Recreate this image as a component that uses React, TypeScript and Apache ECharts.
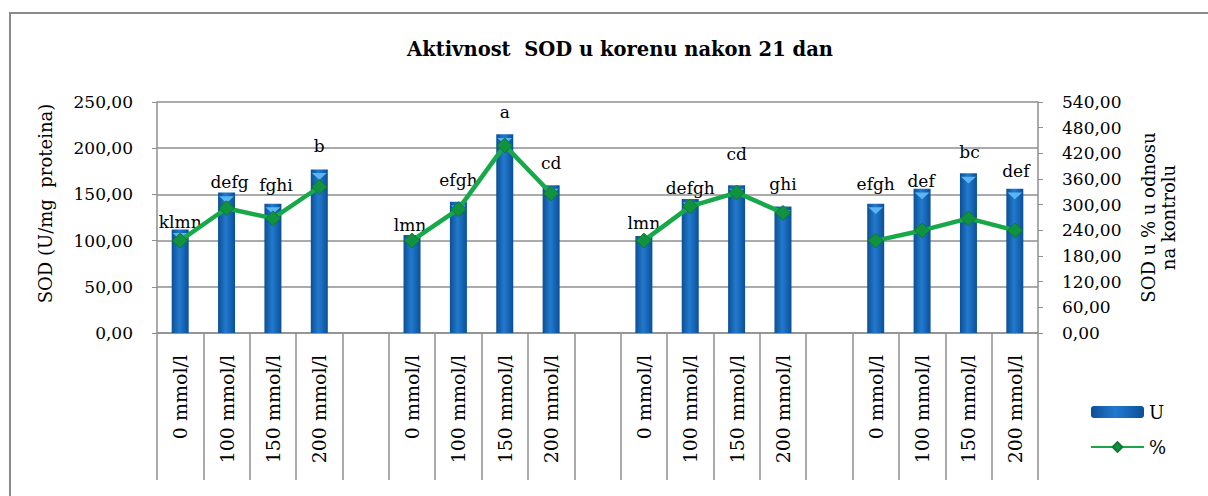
import React, { useEffect, useRef } from 'react';
import * as echarts from 'echarts';

// ---- data ----
const categories = [
  '0 mmol/l', '100 mmol/l', '150 mmol/l', '200 mmol/l', '',
  '0 mmol/l', '100 mmol/l', '150 mmol/l', '200 mmol/l', '',
  '0 mmol/l', '100 mmol/l', '150 mmol/l', '200 mmol/l', '',
  '0 mmol/l', '100 mmol/l', '150 mmol/l', '200 mmol/l',
];
const sodU: (number | null)[] = [
  112, 152, 140, 177, null,
  106, 142, 215, 160, null,
  105, 145, 160, 137, null,
  140, 156, 173, 156,
];
const sodPct: (number | null)[] = [
  100, 135, 124, 158, null,
  100, 134, 203, 151, null,
  100, 137, 152, 130, null,
  100, 111, 124, 111,
];
const letters = [
  'klmn', 'defg', 'fghi', 'b', '',
  'lmn', 'efgh', 'a', 'cd', '',
  'lmn', 'defgh', 'cd', 'ghi', '',
  'efgh', 'def', 'bc', 'def',
];
const leftAxis = { min: 0, max: 250, interval: 50 };
const rightAxis = { min: 0, max: 540, interval: 60 };
const titleText = 'Aktivnost  SOD u korenu nakon 21 dan';
const leftName = 'SOD (U/mg  proteina)';
const rightName = 'SOD u % u odnosu\nna kontrolu';

// ---- layout (label nudges, px) ----
const labelNudge: [number, number][] = [
  [0, 1], [3, -2], [3, -10], [0, -14], [0, 0],
  [-2, -1], [0, -13], [0, -13], [0, -13], [0, 0],
  [0, -4], [0, -2], [0, -22], [0, -13], [0, 0],
  [0, -11], [-1, 1], [1, -12], [1, -9],
];

const FONT = 'DejaVu Serif';
const GRID_GRAY = '#8f8f8f';
const fmt = (v: number) => v.toFixed(2).replace('.', ',');

export default function App() {
  const ref = useRef<HTMLDivElement>(null);
  useEffect(() => {
    document.body.style.margin = '0';
    const chart = echarts.init(ref.current!, null, { renderer: 'svg' });
    const barColor = new echarts.graphic.LinearGradient(0, 0, 1, 0, [
      { offset: 0, color: '#0b4f96' },
      { offset: 0.45, color: '#2379cc' },
      { offset: 0.6, color: '#1c6fc2' },
      { offset: 1, color: '#0b4f96' },
    ]);
    chart.setOption({
      animation: false,
      backgroundColor: '#ffffff',
      textStyle: { fontFamily: FONT },
      title: {
        text: titleText,
        left: 615,
        textAlign: 'center',
        top: 34,
        textStyle: { fontFamily: FONT, fontWeight: 'bold', fontSize: 19.5, color: '#000' },
      },
      graphic: [
        {
          type: 'rect',
          shape: { x: 10, y: 13, width: 1400, height: 700 },
          style: { fill: 'none', stroke: '#8a8a8a', lineWidth: 2 },
          silent: true,
          z: -1,
        },
      ],
      legend: {
        orient: 'vertical',
        left: 1085,
        top: 397,
        itemWidth: 53,
        itemHeight: 12,
        itemGap: 15,
        data: ['U', '%'],
        textStyle: { fontFamily: FONT, fontSize: 18, color: '#000', lineHeight: 20 },
      },
      grid: { left: 157, right: 170, top: 102, bottom: 163, containLabel: false },
      xAxis: {
        type: 'category',
        data: categories,
        boundaryGap: true,
        axisLine: { show: true, lineStyle: { color: GRID_GRAY, width: 1.5 } },
        axisTick: { show: true, interval: 0, length: 147, lineStyle: { color: GRID_GRAY, width: 1.5 } },
        axisLabel: {
          interval: 0,
          rotate: 90,
          margin: 22,
          fontFamily: FONT,
          fontSize: 19,
          color: '#000',
        },
      },
      yAxis: [
        {
          type: 'value',
          min: leftAxis.min,
          max: leftAxis.max,
          interval: leftAxis.interval,
          name: leftName,
          nameLocation: 'middle',
          nameRotate: 90,
          nameGap: 103,
          nameTextStyle: { fontFamily: FONT, fontSize: 18, color: '#000', padding: [0, 0, 0, 28] },
          axisLine: { show: true, lineStyle: { color: GRID_GRAY, width: 1.5 } },
          axisTick: { show: true, length: 5, lineStyle: { color: GRID_GRAY } },
          axisLabel: { formatter: fmt, margin: 24, fontFamily: FONT, fontSize: 17, color: '#000' },
          splitLine: { show: true, lineStyle: { color: GRID_GRAY, width: 1.5 } },
        },
        {
          type: 'value',
          position: 'right',
          min: rightAxis.min,
          max: rightAxis.max,
          interval: rightAxis.interval,
          name: rightName,
          nameLocation: 'middle',
          nameRotate: 90,
          nameGap: 100,
          nameTextStyle: { fontFamily: FONT, fontSize: 18, color: '#000', lineHeight: 20 },
          axisLine: { show: true, lineStyle: { color: GRID_GRAY, width: 1.5 } },
          axisTick: { show: true, length: 5, lineStyle: { color: GRID_GRAY } },
          axisLabel: { formatter: fmt, margin: 24, fontFamily: FONT, fontSize: 17, color: '#000' },
          splitLine: { show: false },
        },
      ],
      series: [
        {
          name: 'U',
          type: 'bar',
          yAxisIndex: 0,
          barWidth: 17,
          barGap: '-100%',
          itemStyle: { color: barColor },
          data: sodU.map((v, i) => ({
            value: v,
            label: { offset: labelNudge[i] },
          })),
          label: {
            show: true,
            position: 'top',
            distance: 0,
            formatter: (p: any) => letters[p.dataIndex],
            fontFamily: FONT,
            fontSize: 17,
            lineHeight: 18,
            color: '#000',
          },
          z: 2,
        },
        {
          name: 'U cap',
          type: 'pictorialBar',
          yAxisIndex: 0,
          data: sodU,
          symbol: 'triangle',
          symbolRotate: 180,
          symbolSize: [15, 7],
          symbolPosition: 'end',
          symbolOffset: [0, '50%'],
          barGap: '-100%',
          itemStyle: { color: '#5ab6f2' },
          silent: true,
          z: 3,
        },
        {
          name: '%',
          type: 'line',
          yAxisIndex: 0,
          data: sodPct,
          connectNulls: false,
          symbol: 'diamond',
          symbolSize: 15,
          lineStyle: { color: '#17a84a', width: 4.5 },
          itemStyle: { color: '#11923f', borderColor: '#0b7a33', borderWidth: 1 },
          z: 4,
        },
      ],
    });
    return () => chart.dispose();
  }, []);
  return <div ref={ref} style={{ width: 1208, height: 496 }} />;
}
